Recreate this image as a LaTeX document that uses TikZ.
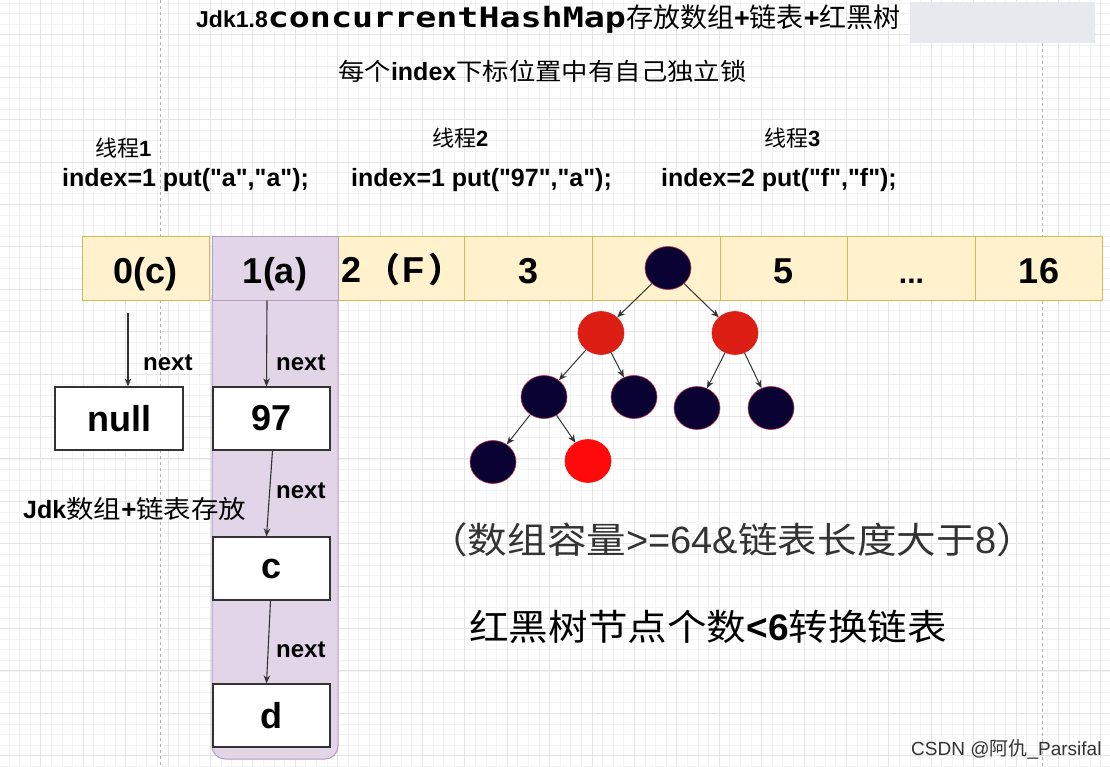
\documentclass[tikz,border=0pt]{standalone}
\usepackage{fontspec}
\setmainfont{Liberation Sans}[Ligatures=TeXOff]
\newfontfamily\cjk{Noto Sans CJK SC}
\newfontfamily\cjkwide[FakeStretch=1.10]{Noto Sans CJK SC}
\newfontfamily\monofam[FakeStretch=1.25]{DejaVu Sans Mono}
\usetikzlibrary{shapes.geometric,arrows.meta}
\definecolor{cellfill}{HTML}{FFF2CC}
\definecolor{cellline}{HTML}{D6B656}
\definecolor{purpfill}{HTML}{E1D5E7}
\definecolor{purpline}{HTML}{B49AC4}
\definecolor{boxline}{HTML}{333333}
\definecolor{arrowcol}{HTML}{333333}
\definecolor{navy}{HTML}{0B0234}
\definecolor{rimred}{HTML}{B0304A}
\definecolor{treered}{HTML}{DC1E14}
\definecolor{brightred}{HTML}{FF0A0A}
\definecolor{gridminor}{HTML}{F3F3F3}
\definecolor{gridmajor}{HTML}{E4E4E4}
\definecolor{dashcol}{HTML}{B0B0B0}
\definecolor{smudge}{HTML}{E6E9EE}
\definecolor{txtgray}{HTML}{333333}
\newcommand{\fsz}[1]{\fontsize{#1}{#1}\selectfont}
\begin{document}
\begin{tikzpicture}[x=1pt,y=-1pt,
  cell/.style={draw=cellline, fill=cellfill, minimum width=127.6pt, minimum height=63pt, inner sep=0pt, font=\fsz{36}\bfseries, line width=1pt, text height=29pt, text depth=0pt},
  listbox/.style={draw=boxline, fill=white, minimum height=63pt, inner sep=0pt, font=\fsz{36}\bfseries, line width=1.2pt},
  arr/.style={-{Stealth[length=8pt,width=6.5pt]}, draw=arrowcol, line width=1.1pt},
  tarr/.style={-{Stealth[length=8pt,width=6.5pt]}, draw=arrowcol, line width=1pt},
  lbl/.style={font=\fsz{24}\bfseries, inner sep=0pt, anchor=base west},
  txt/.style={inner sep=0pt, anchor=base west},
  bnode/.style={ellipse, fill=navy, draw=rimred, line width=0.6pt, minimum width=46pt, minimum height=43pt, inner sep=0pt},
  rnode/.style={ellipse, fill=treered, draw=treered, line width=0.6pt, minimum width=46pt, minimum height=43pt, inner sep=0pt},
  brnode/.style={rnode, fill=brightred, draw=brightred}
]
\useasboundingbox (0,0) rectangle (1110,767);
\fill[white] (0,0) rectangle (1110,767);
% grid
\foreach \i in {0,...,104} { \draw[gridminor, line width=0.6pt] ({8.9+10.6*\i},0) -- ++(0,767); }
\foreach \i in {0,...,72} { \draw[gridminor, line width=0.6pt] (0,{3.0+10.6*\i}) -- ++(1110,0); }
\foreach \i in {0,...,26} { \draw[gridmajor, line width=0.8pt] ({-1.7+42.4*\i},0) -- ++(0,767); }
\foreach \i in {0,...,18} { \draw[gridmajor, line width=0.8pt] (0,{-7.6+42.4*\i}) -- ++(1110,0); }
\draw[dashcol, line width=1pt, dash pattern=on 3pt off 3pt] (160,0) -- (160,767);
\draw[dashcol, line width=1pt, dash pattern=on 3pt off 3pt] (1042,43) -- (1042,767);
\fill[smudge] (910,2) rectangle (1095,43);

% title
\node[txt] (title) at (196,28) {{\fsz{23}\bfseries Jdk1.8}{\monofam\fsz{28}\bfseries concurrentHashMap}{\cjk\fsz{27}存放数组}{\fsz{27}\bfseries +}{\cjk\fsz{27}链表}{\fsz{27}\bfseries +}{\cjk\fsz{27}红黑树}};
\node[txt] (sub) at (338,81) {{\cjkwide\fsz{24}每个}{\fsz{25}\bfseries index}{\cjkwide\fsz{24}下标位置中有自己独立锁}};

% threads
\node[txt] (t1) at (95,157) {{\cjk\fsz{22}线程}{\fsz{22}\bfseries 1}};
\node[lbl, font=\fsz{25}\bfseries] (p1) at (62,187) {index=1 put("a","a");};
\node[txt] (t2) at (432,147) {{\cjk\fsz{22}线程}{\fsz{22}\bfseries 2}};
\node[lbl, font=\fsz{25}\bfseries] (p2) at (351,187) {index=1 put("97","a");};
\node[txt] (t3) at (764,147) {{\cjk\fsz{22}线程}{\fsz{22}\bfseries 3}};
\node[lbl, font=\fsz{25}\bfseries] (p3) at (661,187) {index=2 put("f","f");};

% array
\node[cell] (c0) at (145.8,268.5) {0(c)};
\node[cell] (c2) at (401.0,268.5) {};
\node[lbl, font=\fsz{36}\bfseries] (c2t) at (341,282) {2\hspace{5pt}{\cjk\fsz{34}（}\hspace{2pt}F\hspace{4pt}{\cjk\fsz{34}）}};
\node[cell] (c3) at (528.6,268.5) {3};
\node[cell] (c4) at (656.2,268.5) {};
\node[cell] (c5) at (783.8,268.5) {5};
\node[cell, font=\fsz{30}\bfseries] (c6) at (911.4,268.5) {...};
\node[cell] (c7) at (1039.0,268.5) {16};

% purple column
\draw[purpline, fill=purpfill, line width=1pt, rounded corners=13pt] (212,295) -- (212,759) -- (338,759) -- (338,295);
\node[cell, draw=purpline, fill=purpfill, minimum width=126pt] (c1) at (275,268.5) {1(a)};

% list boxes
\node[listbox, minimum width=128pt] (null) at (119,418.5) {null};
\node[listbox, minimum width=117pt] (b97) at (271.5,418.5) {97};
\node[listbox, minimum width=117pt] (bc) at (271.5,568.5) {c};
\node[listbox, minimum width=117pt] (bd) at (271.5,715.5) {d};

% list arrows
\coordinate (n0) at (128,313);
\draw[arr] (n0) -- (n0 |- null.north);
\node[lbl] (nx0) at (143,370) {next};
\draw[arr] ([xshift=-8pt]c1.south) -- ([xshift=-5pt]b97.north);
\node[lbl] (nx1) at (276,370) {next};
\draw[arr] ([xshift=1pt]b97.south) -- ([xshift=-5pt]bc.north);
\node[lbl] (nx2) at (276,498) {next};
\draw[arr] ([xshift=-1pt]bc.south) -- ([xshift=-5pt]bd.north);
\node[lbl] (nx3) at (276,657) {next};

\node[txt] (jdk) at (23,518) {{\fsz{25}\bfseries Jdk}{\cjkwide\fsz{25}数组}{\fsz{26}\bfseries +}{\cjkwide\fsz{25}链表存放}};

% red-black tree
\node[bnode] (root) at (668,268) {};
\node[rnode] (rl) at (601,333) {};
\node[rnode] (rr) at (735,333) {};
\node[bnode] (b1) at (544,397) {};
\node[bnode] (b2) at (634,397) {};
\node[bnode] (b3) at (697,408) {};
\node[bnode] (b4) at (771,408) {};
\node[bnode] (b5) at (493,462) {};
\node[brnode] (r2) at (588,461) {};
\draw[tarr] (root) -- (rl);
\draw[tarr] (root) -- (rr);
\draw[tarr] (rl) -- (b1);
\draw[tarr] (rl) -- (b2);
\draw[tarr] (rr) -- (b3);
\draw[tarr] (rr) -- (b4);
\draw[tarr] (b1) -- (b5);
\draw[tarr] (b1) -- (r2);

% notes
\node[txt, text=txtgray] (cond) at (428,553) {{\cjkwide\fsz{36}（数组容量}{\fsz{38}>=64\&}{\cjkwide\fsz{36}链表长度大于}{\fsz{38}8}{\cjkwide\fsz{36}）}};
\node[txt] (conv) at (469,640) {{\cjkwide\fsz{36}红黑树节点个数}{\fsz{37}\bfseries <6}{\cjkwide\fsz{36}转换链表}};
\node[txt, text=txtgray] (wm) at (911,755) {{\fsz{19}CSDN @}{\cjk\fsz{19}阿仇}{\fsz{19}\_Parsifal}};
\end{tikzpicture}
\end{document}
